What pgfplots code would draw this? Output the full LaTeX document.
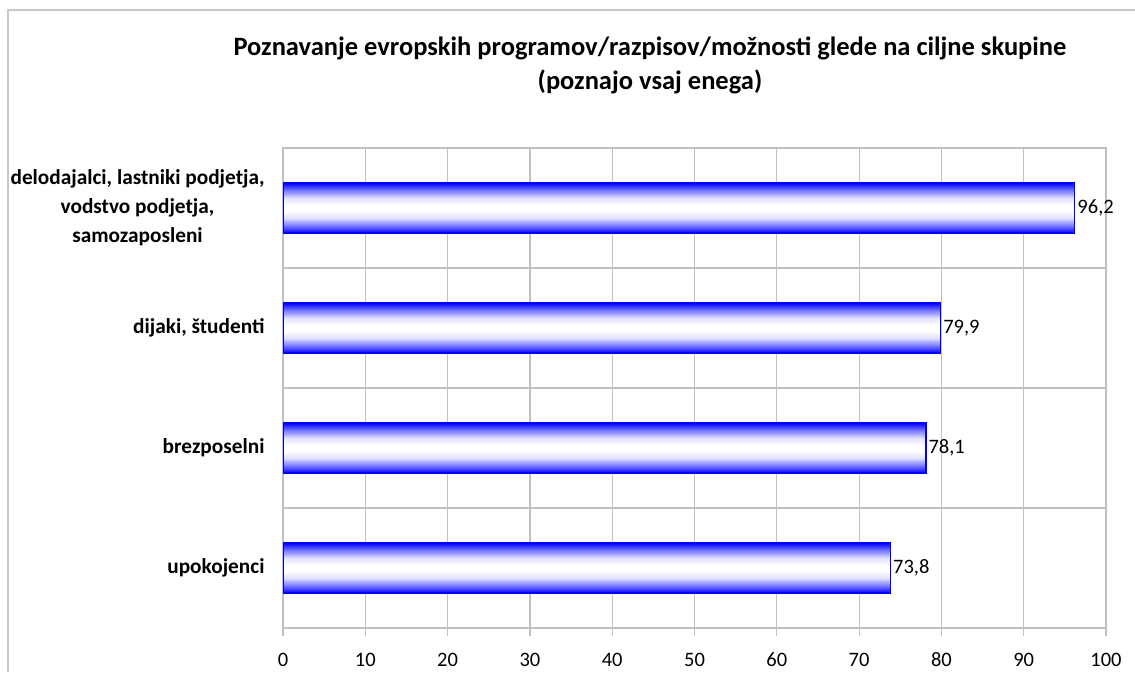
\documentclass[border=0pt]{standalone}
\usepackage{pgfplots}
\pgfplotsset{compat=1.18}
\usepackage{fontspec}
\setmainfont{Carlito}
\definecolor{gridgray}{RGB}{192,192,192}
\definecolor{framegray}{RGB}{200,200,200}
\pgfdeclareverticalshading{barshade}{100bp}{color(0bp)=(blue); color(25bp)=(blue); color(32bp)=(blue!55!white); color(40bp)=(blue!12!white); color(47bp)=(white); color(53bp)=(white); color(60bp)=(blue!12!white); color(68bp)=(blue!55!white); color(75bp)=(blue); color(100bp)=(blue)}
\begin{document}
\begin{tikzpicture}[x=1pt,y=1pt]
\path[use as bounding box] (0,0) rectangle (1135,-672);
\draw[framegray, line width=2.5pt] (8,-672) -- (8,-10) -- (1135,-10);
\node[font=\fontsize{26.5}{34}\selectfont\bfseries, align=center] at (650,-65) {Poznavanje evropskih programov/razpisov/možnosti glede na ciljne skupine\\(poznajo vsaj enega)};
\begin{axis}[
  at={(283pt,-628pt)}, anchor=south west,
  scale only axis, width=823pt, height=480pt,
  xbar, bar width=50pt, bar shift=0pt,
  xmin=0, xmax=100, ymin=-0.5, ymax=3.5,
  xtick={0,10,...,100},
  ytick={0,1,2,3},
  yticklabels={upokojenci, brezposelni, {dijaki, študenti}, {delodajalci, lastniki podjetja,\\vodstvo podjetja,\\samozaposleni}},
  minor ytick={-0.5,0.5,1.5,2.5,3.5},
  ytick style={draw=none},
  minor tick style={gridgray, line width=1.2pt},
  xtick style={gridgray, line width=1.2pt},
  major tick length=8pt, minor tick length=8pt,
  tick align=outside, tick pos=left,
  xmajorgrids, yminorgrids,
  major grid style={gridgray, line width=1.2pt},
  minor grid style={gridgray, line width=1.2pt},
  axis line style={gridgray, line width=1.2pt},
  /pgf/number format/assume math mode=true,
  xticklabel style={font=\fontsize{20.5}{24}\selectfont, text height=14pt, text depth=0pt, yshift=-13pt},
  yticklabel style={font=\fontsize{21.3}{29}\selectfont\bfseries, align=center, xshift=-7pt},
  nodes near coords={\pgfmathprintnumber[fixed,fixed zerofill,precision=1,use comma,assume math mode=true]{\pgfplotspointmeta}},
  nodes near coords style={font=\fontsize{20.5}{24}\selectfont, black, inner sep=2pt},
  cycle list={draw=blue,line width=1.5pt,shade,shading=barshade\\},
]
\addplot coordinates {(73.8,0)};
\addplot coordinates {(78.1,1)};
\addplot coordinates {(79.9,2)};
\addplot coordinates {(96.2,3)};
\end{axis}
\end{tikzpicture}
\end{document}
